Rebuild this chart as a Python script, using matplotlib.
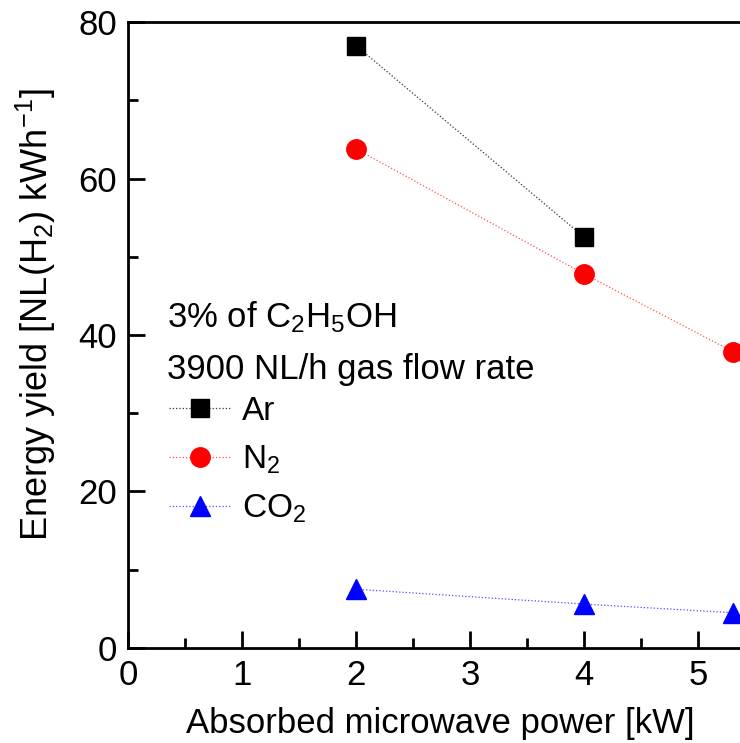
import matplotlib
matplotlib.use('Agg')
import numpy as np
from matplotlib import pyplot as plt
from matplotlib.ticker import MultipleLocator, FixedLocator

plt.rcParams['font.family'] = ['Liberation Sans', 'DejaVu Sans']
plt.rcParams['mathtext.fontset'] = 'custom'
plt.rcParams['mathtext.rm'] = 'Liberation Sans'
plt.rcParams['mathtext.it'] = 'Liberation Sans'

# data
power = [2, 4, 5.3]
ar = [77.0, 52.5]
n2 = [63.8, 47.8, 37.9]
co2 = [7.5, 5.6, 4.5]
xticks = [0, 1, 2, 3, 4, 5]

fig = plt.figure(figsize=(7.4, 7.43), dpi=100)
# axes run past the right edge, like the cropped original
ax = fig.add_axes([0.173, 0.128, 0.925, 0.842])

ax.plot(power[:2], ar, ls=':', lw=0.9, color='#333333', marker='s', ms=12.5,
        mfc='black', mec='black', label='Ar', clip_on=False)
ax.plot(power, n2, ls=':', lw=0.9, color='#ff5050', marker='o', ms=14,
        mfc='red', mec='red', label='N$_2$', clip_on=False)
ax.plot(power, co2, ls=':', lw=0.9, color='#5050ff', marker='^', ms=14,
        mfc='blue', mec='blue', label='CO$_2$', clip_on=False)

ax.set_xlim(0, 6)
ax.set_ylim(0, 80)
ax.xaxis.set_major_locator(FixedLocator(xticks))
ax.xaxis.set_minor_locator(FixedLocator([0.5, 1.5, 2.5, 3.5, 4.5, 5.5]))
ax.yaxis.set_major_locator(MultipleLocator(20))
ax.yaxis.set_minor_locator(MultipleLocator(10))
ax.tick_params(which='both', direction='in', width=2, labelsize=25, pad=8)
ax.tick_params(which='major', length=12)
ax.tick_params(which='minor', length=7)
for s in ax.spines.values():
    s.set_linewidth(2)

ax.set_xlabel('Absorbed microwave power [kW]', fontsize=25)
ax.xaxis.set_label_coords(0.456, -0.095)
ax.set_ylabel('Energy yield [NL(H$_2$) kWh$^{-1}$]', fontsize=26)
ax.yaxis.set_label_coords(-0.102, 0.533)

ax.text(0.057, 0.528, '3% of C$_2$H$_5$OH', transform=ax.transAxes, fontsize=25, va='center')
ax.text(0.057, 0.445, '3900 NL/h gas flow rate', transform=ax.transAxes, fontsize=25, va='center')

ax.legend(loc='upper left', bbox_to_anchor=(0.035, 0.43), frameon=False, fontsize=24,
          handlelength=1.9, handletextpad=0.3, labelspacing=0.5, borderpad=0, numpoints=1)

plt.savefig('out.png', dpi=100)
